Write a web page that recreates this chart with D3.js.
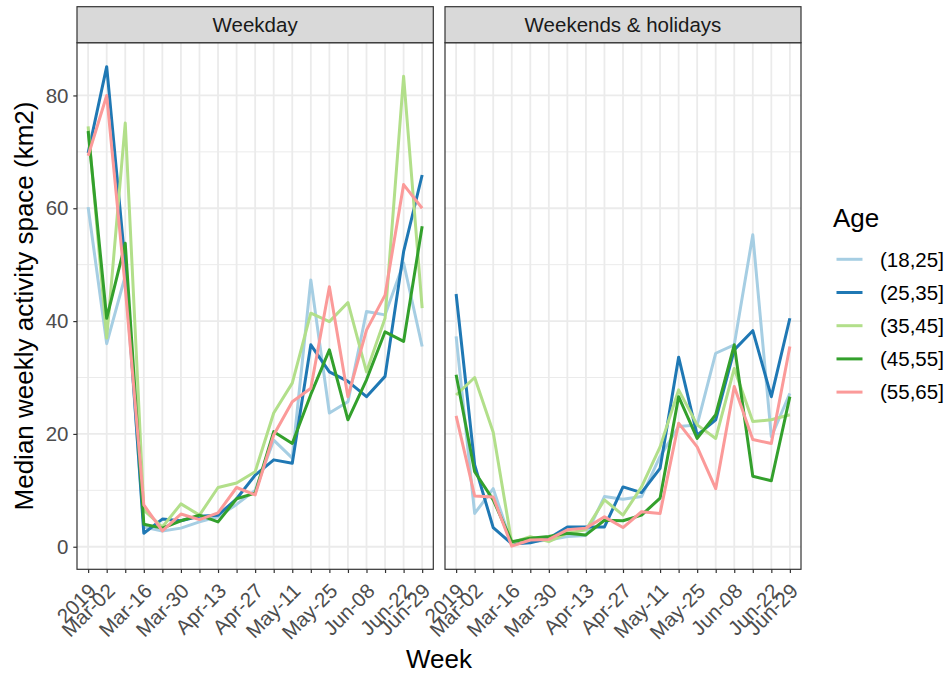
<!DOCTYPE html>
<html>
<head>
<meta charset="utf-8">
<script src="https://cdn.jsdelivr.net/npm/d3@7"></script>
<style>
  html, body { margin: 0; padding: 0; background: #fff; }
  svg { display: block; font-family: "Liberation Sans", Arial, Helvetica, sans-serif; }
</style>
</head>
<body>
<svg id="chart" width="949" height="678"></svg>
<script>
// ---------------- DATA ----------------
const weeks = ["2019","Mar-02","Mar-09","Mar-16","Mar-23","Mar-30","Apr-06","Apr-13","Apr-20","Apr-27",
               "May-04","May-11","May-18","May-25","Jun-01","Jun-08","Jun-15","Jun-22","Jun-29"];
const tickLabels = ["2019","Mar-02","Mar-16","Mar-30","Apr-13","Apr-27","May-11","May-25","Jun-08","Jun-22","Jun-29"];
const ageGroups = ["(18,25]","(25,35]","(35,45]","(45,55]","(55,65]"];
const ageColors = ["#A6CEE3","#1F78B4","#B2DF8A","#33A02C","#FB9A99"];
const panels = ["Weekday","Weekends & holidays"];
const yTicks = [0, 20, 40, 60, 80];

// Weekday
const weekday_18_25 = [60.2, 36.0, 48.0, 3.5, 2.8, 3.3, 4.4, 5.3, 7.5, 10.0, 18.9, 15.7, 47.3, 23.7, 25.7, 41.7, 41.1, 50.3, 35.5];
const weekday_25_35 = [69.8, 85.1, 50.0, 2.4, 4.9, 4.6, 5.4, 5.6, 8.5, 12.7, 15.4, 14.8, 35.8, 31.0, 29.3, 26.6, 30.2, 52.3, 65.9];
const weekday_35_45 = [74.5, 37.0, 75.1, 6.5, 3.5, 7.6, 5.6, 10.5, 11.3, 13.3, 23.7, 29.0, 41.4, 39.9, 43.3, 31.0, 40.5, 83.4, 42.3];
const weekday_45_55 = [73.7, 40.5, 53.8, 4.0, 3.3, 4.6, 5.6, 4.4, 8.5, 9.5, 20.4, 18.3, 27.0, 34.9, 22.5, 29.6, 38.1, 36.4, 56.8];
const weekday_55_65 = [69.3, 80.0, 46.0, 7.4, 2.8, 5.8, 4.8, 6.0, 10.5, 9.2, 19.8, 25.7, 28.1, 46.1, 26.6, 38.4, 44.6, 64.2, 60.0];

// Weekends & holidays
const weekend_18_25 = [37.3, 5.9, 10.3, 0.5, 0.9, 1.2, 1.8, 2.0, 8.9, 8.4, 8.9, 16.0, 21.3, 21.6, 34.3, 35.8, 55.3, 19.5, 27.2];
const weekend_25_35 = [44.8, 14.5, 3.4, 0.5, 0.7, 1.5, 3.5, 3.5, 3.5, 10.6, 9.6, 13.9, 33.6, 19.8, 22.5, 34.9, 38.3, 26.6, 40.5];
const weekend_35_45 = [26.9, 30.0, 20.3, 0.7, 1.8, 0.9, 2.4, 3.0, 8.3, 5.6, 10.6, 17.7, 27.8, 21.6, 19.2, 31.6, 22.2, 22.5, 23.4];
const weekend_45_55 = [30.5, 13.3, 8.3, 0.9, 1.5, 1.8, 2.4, 2.1, 4.7, 4.6, 5.6, 8.6, 26.6, 19.2, 23.4, 35.8, 12.5, 11.7, 26.6];
const weekend_55_65 = [23.2, 9.0, 8.8, 0.1, 1.2, 1.3, 3.0, 3.3, 5.3, 3.4, 6.2, 5.9, 21.9, 17.7, 10.3, 28.4, 19.0, 18.3, 35.5];

const panelSeries = [
  [weekday_18_25, weekday_25_35, weekday_35_45, weekday_45_55, weekday_55_65],
  [weekend_18_25, weekend_25_35, weekend_35_45, weekend_45_55, weekend_55_65]
];

// ---------------- LAYOUT ----------------
const svg = d3.select("#chart");
const panelX = [[77, 433.3], [445, 801]];
const stripTop = 6.7, panelTop = 42.7, panelBottom = 569.3;
const smallFont = 20.5, titleFont = 26;
const FONT = "Liberation Sans, Arial, sans-serif";

const y = d3.scaleLinear().domain([-4.0, 89.35]).range([panelBottom, panelTop]);
const minorY = [10, 30, 50, 70];

const line = (x) => d3.line().x((d, i) => x(weeks[i])).y(d => y(d));

panels.forEach((name, p) => {
  const [x0, x1] = panelX[p];
  const x = d3.scalePoint().domain(weeks).range([x0, x1]).padding(0.6);
  const g = svg.append("g");

  g.append("rect").attr("x", x0).attr("y", panelTop).attr("width", x1 - x0).attr("height", panelBottom - panelTop)
    .attr("fill", "#fff");

  g.selectAll(".minor").data(minorY).join("line")
    .attr("x1", x0).attr("x2", x1).attr("y1", d => y(d)).attr("y2", d => y(d))
    .attr("stroke", "#EBEBEB").attr("stroke-width", 1);
  g.selectAll(".majorH").data(yTicks).join("line")
    .attr("x1", x0).attr("x2", x1).attr("y1", d => y(d)).attr("y2", d => y(d))
    .attr("stroke", "#EBEBEB").attr("stroke-width", 1.8);
  g.selectAll(".majorV").data(weeks).join("line")
    .attr("x1", d => x(d)).attr("x2", d => x(d)).attr("y1", panelTop).attr("y2", panelBottom)
    .attr("stroke", "#EBEBEB").attr("stroke-width", 1.8);

  panelSeries[p].forEach((vals, k) => {
    g.append("path").datum(vals)
      .attr("d", line(x))
      .attr("fill", "none")
      .attr("stroke", ageColors[k])
      .attr("stroke-width", 3)
      .attr("stroke-linejoin", "round");
  });

  g.append("rect").attr("x", x0).attr("y", panelTop).attr("width", x1 - x0).attr("height", panelBottom - panelTop)
    .attr("fill", "none").attr("stroke", "#333").attr("stroke-width", 1.2);

  g.append("rect").attr("x", x0).attr("y", stripTop).attr("width", x1 - x0).attr("height", panelTop - stripTop)
    .attr("fill", "#D9D9D9").attr("stroke", "#333").attr("stroke-width", 1.2);
  g.append("text").attr("x", (x0 + x1) / 2).attr("y", (stripTop + panelTop) / 2)
    .attr("dy", "0.36em").attr("text-anchor", "middle")
    .attr("font-size", smallFont).attr("fill", "#1A1A1A").text(name);

  const xAxis = g.append("g").attr("transform", `translate(0,${panelBottom})`)
    .call(d3.axisBottom(x).tickSize(3.7).tickFormat(d => tickLabels.includes(d) ? d : ""));
  xAxis.select(".domain").remove();
  xAxis.selectAll(".tick line").attr("stroke", "#333").attr("stroke-width", 1.2);
  xAxis.selectAll(".tick text")
    .attr("x", null).attr("y", null).attr("dy", null)
    .attr("transform", "translate(9,23) rotate(-45)")
    .attr("text-anchor", "end")
    .attr("font-size", smallFont).attr("fill", "#4D4D4D")
    .attr("font-family", FONT);

  if (p === 0) {
    const yAxis = g.append("g").attr("transform", `translate(${x0},0)`)
      .call(d3.axisLeft(y).tickValues(yTicks).tickSize(3.7).tickPadding(4.8));
    yAxis.select(".domain").remove();
    yAxis.selectAll(".tick line").attr("stroke", "#333").attr("stroke-width", 1.2);
    yAxis.selectAll(".tick text").attr("font-size", smallFont).attr("fill", "#4D4D4D")
      .attr("font-family", FONT);
  }
});

svg.append("text").attr("x", 439).attr("y", 668).attr("text-anchor", "middle")
  .attr("font-size", titleFont).attr("fill", "#000").text("Week");
svg.append("text").attr("transform", `translate(33.3,${(panelTop + panelBottom) / 2}) rotate(-90)`)
  .attr("text-anchor", "middle").attr("font-size", titleFont).attr("fill", "#000")
  .text("Median weekly activity space (km2)");

const legend = svg.append("g");
legend.append("text").attr("x", 833).attr("y", 226.7).attr("font-size", titleFont).attr("fill", "#000").text("Age");
ageGroups.forEach((a, k) => {
  const ky = 259.3 + k * 33.2;
  legend.append("line").attr("x1", 836.5).attr("x2", 862.5).attr("y1", ky).attr("y2", ky)
    .attr("stroke", ageColors[k]).attr("stroke-width", 3);
  legend.append("text").attr("x", 880).attr("y", ky).attr("dy", "0.36em")
    .attr("font-size", smallFont).attr("fill", "#000").text(a);
});
</script>
</body>
</html>
